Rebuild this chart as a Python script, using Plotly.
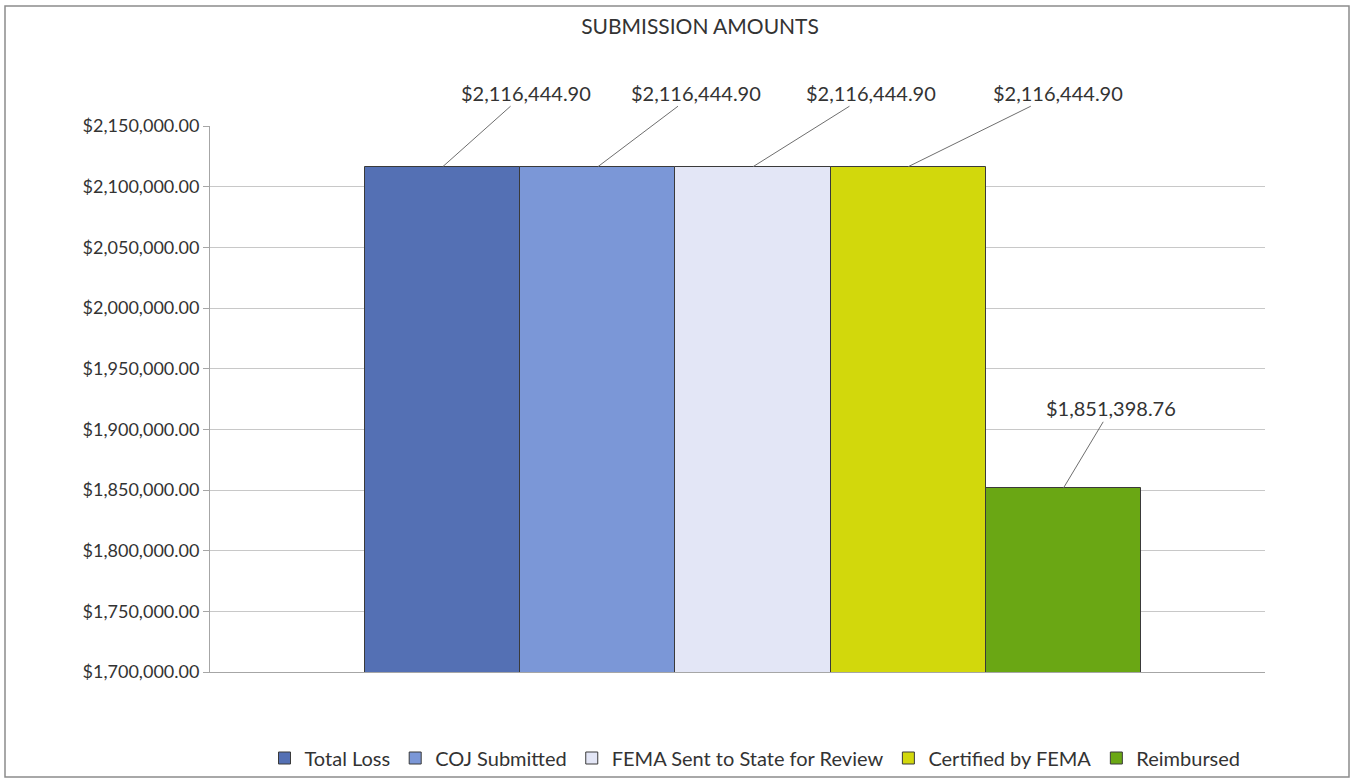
import plotly.graph_objects as go

# ---- data ----
series = ["Total Loss", "COJ Submitted", "FEMA Sent to State for Review", "Certified by FEMA", "Reimbursed"]
values = [2116444.90, 2116444.90, 2116444.90, 2116444.90, 1851398.76]
colors = ["#5470B4", "#7B97D7", "#E3E6F6", "#D2D80C", "#6AA714"]
y_ticks = [1700000 + 50000 * i for i in range(10)]

# label offsets (pixels) for the leader-line callouts
label_ax = [83, 98, 118, 150, 48]
label_ay = [-74, -74, -74, -74, -80]

W, H = 1353, 781
L, R, T, B = 210, 88, 126, 109
pw, ph = W - L - R, H - T - B

FONT = "Lato"

fig = go.Figure()
for name, val, col in zip(series, values, colors):
    fig.add_trace(go.Bar(
        x=[name], y=[val], name=name,
        marker=dict(color=col, line=dict(color="#3A3A3A", width=1)),
        width=1.0,
    ))

annotations = []
for name, val, ax, ay in zip(series, values, label_ax, label_ay):
    annotations.append(dict(
        x=name, y=val, xref="x", yref="y",
        text=f"${val:,.2f}", showarrow=True, arrowhead=0, arrowwidth=1,
        arrowcolor="#6E6E6E", ax=ax, ay=ay,
        font=dict(family=FONT, size=20, color="#333333"),
    ))

fig.update_layout(
    width=W, height=H,
    margin=dict(l=L, r=R, t=T, b=B, autoexpand=False),
    paper_bgcolor="white", plot_bgcolor="white",
    title=dict(text="SUBMISSION AMOUNTS", x=700 / W, xanchor="center",
               y=1 - 27 / H, yanchor="middle",
               font=dict(family=FONT, size=21, color="#333333")),
    barmode="overlay", bargap=0,
    showlegend=True,
    legend=dict(orientation="h", x=(755 - L) / pw, xanchor="center",
                y=(H - B - 758) / ph, yanchor="middle",
                bgcolor="rgba(0,0,0,0)",
                font=dict(family=FONT, size=20, color="#333333"),
                traceorder="normal", itemwidth=30),
    annotations=annotations,
    xaxis=dict(range=[-1.5, 5.3], showticklabels=False, showgrid=False,
               zeroline=False, showline=True, linecolor="#A6A6A6", linewidth=1),
    yaxis=dict(range=[1700000, 2150000], tickvals=y_ticks, tickformat="$,.2f",
               showgrid=True, gridcolor="#C8C8C8", gridwidth=1,
               showline=True, linecolor="#A6A6A6", linewidth=1,
               ticks="outside", ticklen=6, tickcolor="#A6A6A6",
               zeroline=False,
               tickfont=dict(family=FONT, size=18, color="#333333")),
    shapes=[dict(type="rect", xref="paper", yref="paper",
                 x0=(5 - L) / pw, x1=(1349 - L) / pw,
                 y0=(H - B - 777) / ph, y1=(H - B - 6) / ph,
                 line=dict(color="#8C8C8C", width=1.5), fillcolor="rgba(0,0,0,0)",
                 layer="below")],
)

fig.write_html("out.html", config={"displayModeBar": False},
               post_script="document.body.style.margin='0';")
